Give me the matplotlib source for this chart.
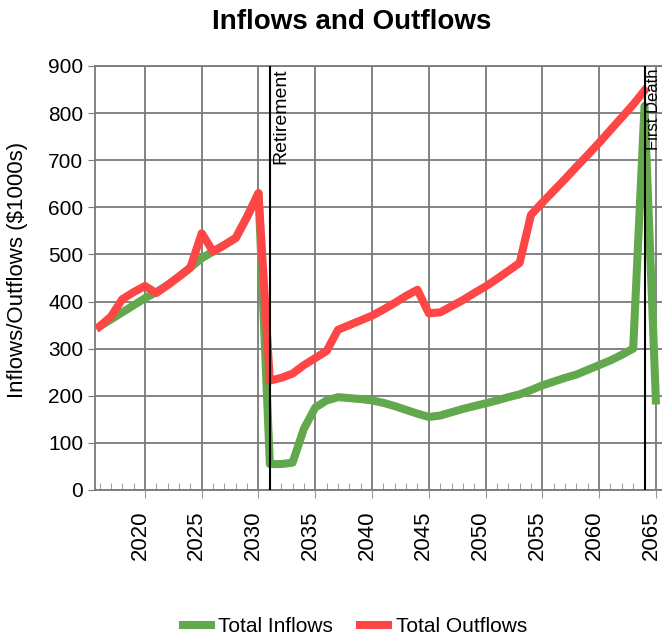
import numpy as np
import matplotlib.pyplot as plt
import matplotlib.transforms as mtransforms
from matplotlib.ticker import MultipleLocator

plt.rcParams['font.family'] = ['Liberation Sans', 'DejaVu Sans']

# Data ($1000s)
years = np.arange(2016, 2066)

inflows = [347, 362, 377, 392, 407, 420, 435, 453, 472, 492,
           506, 520, 535, 580, 630, 55, 55, 58, 130, 175,
           190, 197, 195, 193, 190, 185, 178, 170, 162, 155,
           158, 165, 172, 178, 184, 190, 197, 203, 212, 222,
           230, 238, 245, 255, 265, 275, 287, 300, 815, 190]

outflows = [347, 368, 405, 420, 433, 418, 435, 453, 472, 545,
            506, 520, 535, 580, 630, 232, 238, 247, 265, 280,
            295, 340, 350, 360, 370, 383, 397, 412, 425, 375,
            377, 390, 403, 418, 432, 448, 465, 482, 584, 610,
            635, 660, 686, 711, 737, 764, 791, 818, 848]

events = [(2031, "Retirement", 14, 0.25), (2064, "First Death", 12, 0.1)]

green = "#62a84c"
red = "#ff4646"

fig = plt.figure(figsize=(6.62, 6.38), dpi=100)
ax = fig.add_axes([0.1435, 0.232, 0.862, 0.6646])

ax.plot(years, inflows, color=green, lw=5.8, label="Total Inflows", zorder=3)
ax.plot(years[:len(outflows)], outflows, color=red, lw=5.8,
        label="Total Outflows", zorder=4)

for yr, name, fs, dx in events:
    ax.axvline(yr, color="black", lw=1.5, zorder=5)
    ax.text(yr + dx, 895, name, rotation=90, ha="left", va="top",
            fontsize=fs, zorder=6)

ax.set_xlim(2015.6, 2065.86)
ax.set_ylim(0, 900)
ax.xaxis.set_major_locator(MultipleLocator(5))
ax.xaxis.set_minor_locator(MultipleLocator(1))
ax.yaxis.set_major_locator(MultipleLocator(100))

ax.grid(True, which="major", color="#7a7a7a", lw=1.3)
ax.set_axisbelow(True)
for side in ax.spines.values():
    side.set_color("#7a7a7a")
    side.set_linewidth(1.3)

ax.tick_params(axis="x", which="major", direction="out", length=6,
               color="#9a9a9a", labelsize=16, labelrotation=90, pad=9)
ax.tick_params(axis="x", which="minor", direction="in", length=5,
               color="#8a8a8a")
ax.tick_params(axis="y", direction="out", length=5, color="#7a7a7a",
               labelsize=15)

# labels sit a little left of their ticks
shift = mtransforms.ScaledTranslation(-5 / 100, 0, fig.dpi_scale_trans)
for lab in ax.get_xticklabels():
    lab.set_transform(lab.get_transform() + shift)

ax.set_ylabel("Inflows/Outflows ($1000s)", fontsize=16)
ax.yaxis.set_label_coords(-0.117, 0.519)

fig.text(0.532, 0.966, "Inflows and Outflows", ha="center", va="center",
         fontsize=20, fontweight="bold")

fig.legend(loc="center", bbox_to_anchor=(0.536, 0.018), ncol=2,
           frameon=False, fontsize=15, handlelength=1.35, handletextpad=0.35,
           columnspacing=1.3)

fig.savefig("out.png", dpi=100)
